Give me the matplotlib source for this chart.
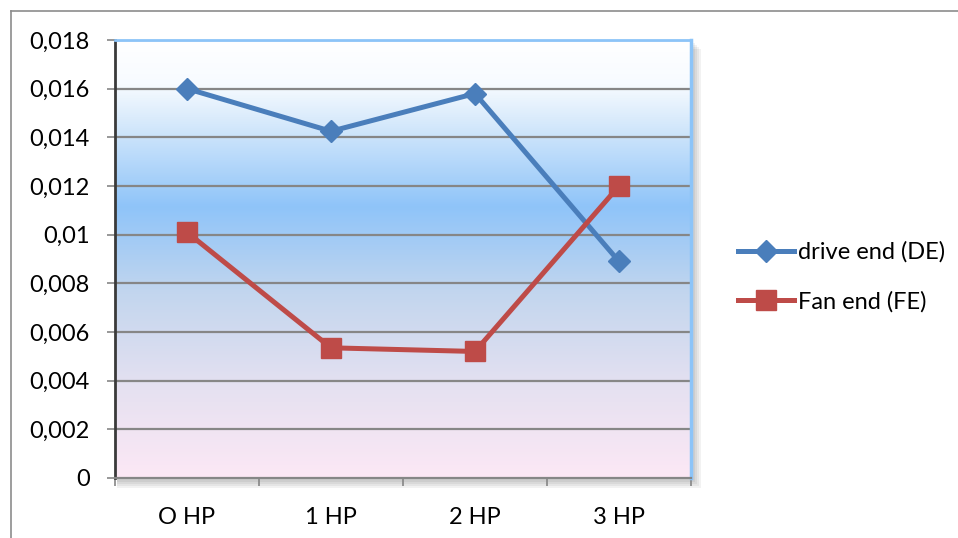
import numpy as np
import matplotlib.pyplot as plt
from matplotlib.colors import LinearSegmentedColormap
from matplotlib.lines import Line2D
from matplotlib.patches import Rectangle

categories = ["O HP", "1 HP", "2 HP", "3 HP"]
drive_end = [0.0160, 0.01425, 0.0158, 0.0089]
fan_end = [0.0101, 0.00535, 0.0052, 0.0120]
y_ticks = [0, 0.002, 0.004, 0.006, 0.008, 0.01, 0.012, 0.014, 0.016, 0.018]
y_tick_labels = ["0", "0,002", "0,004", "0,006", "0,008", "0,01", "0,012",
                 "0,014", "0,016", "0,018"]

plt.rcParams["font.family"] = ["Lato", "DejaVu Sans"]

fig = plt.figure(figsize=(9.58, 5.38), dpi=100)

# outer chart frame (left and top edges)
fig.add_artist(Line2D([11 / 958, 11 / 958], [0, 1 - 11 / 538], color="#8c8c8c", lw=1.2))
fig.add_artist(Line2D([11 / 958, 1], [1 - 11 / 538, 1 - 11 / 538], color="#8c8c8c", lw=1.2))

left, bottom = 115 / 958, 60 / 538
width, height = 576 / 958, 438 / 538

# soft shadow behind the plot area
for i in range(4):
    d = (i + 1) * 2
    fig.add_artist(Rectangle((left + 2 / 958, bottom - (d + 2) / 538),
                             width + d / 958, height + 1 / 538,
                             transform=fig.transFigure, facecolor="black",
                             edgecolor="none", alpha=0.05, zorder=0))

ax = fig.add_axes([left, bottom, width, height])

# vertical gradient background: white -> blue -> pink
cmap = LinearSegmentedColormap.from_list(
    "bg",
    [(0.0, "#fce8f5"), (0.2, "#e6e1f1"), (0.42, "#c3d6ee"),
     (0.62, "#8fc4f9"), (0.8, "#d2e7fb"), (0.9, "#f7fbff"), (1.0, "#ffffff")])
grad = np.linspace(0, 1, 256).reshape(-1, 1)
ax.imshow(grad, aspect="auto", cmap=cmap, origin="lower",
          extent=[0, 1, 0, 1], transform=ax.transAxes, zorder=0)

x = np.arange(len(categories))
ax.set_xlim(-0.5, len(categories) - 0.5)
ax.set_ylim(0, 0.018)

for yt in y_ticks[1:]:
    ax.axhline(yt, color="#868686", lw=1.6, zorder=1)

ax.plot(x, drive_end, color="#4a7ebb", lw=3.6, marker="D", markersize=11.5,
        label="drive end (DE)", zorder=3)
ax.plot(x, fan_end, color="#be4b48", lw=3.6, marker="s", markersize=14,
        label="Fan end (FE)", zorder=3)

ax.set_yticks(y_ticks)
ax.set_yticklabels(y_tick_labels)
ax.set_xticks(x)
ax.set_xticklabels(categories)
ax.set_xticks(np.arange(-0.5, len(categories)), minor=True)
ax.tick_params(axis="x", which="major", length=0, pad=21, labelsize=17)
ax.tick_params(axis="x", which="minor", length=6, width=1.2, color="#868686")
ax.tick_params(axis="y", length=6, width=1.2, color="#868686", pad=12, labelsize=17)

ax.spines["left"].set_color("#3a3a3a")
ax.spines["left"].set_linewidth(2)
ax.spines["bottom"].set_color("#868686")
ax.spines["bottom"].set_linewidth(1.6)
ax.spines["top"].set_color("#8cc4f8")
ax.spines["top"].set_linewidth(2)
ax.spines["right"].set_color("#8cc4f8")
ax.spines["right"].set_linewidth(2.5)

leg = fig.legend(loc="center left", bbox_to_anchor=(726 / 958, 1 - 277 / 538),
                 frameon=False, fontsize=17, handlelength=2.4,
                 handletextpad=0.15, labelspacing=1.2, borderpad=0)

fig.savefig("out.png", dpi=100)
